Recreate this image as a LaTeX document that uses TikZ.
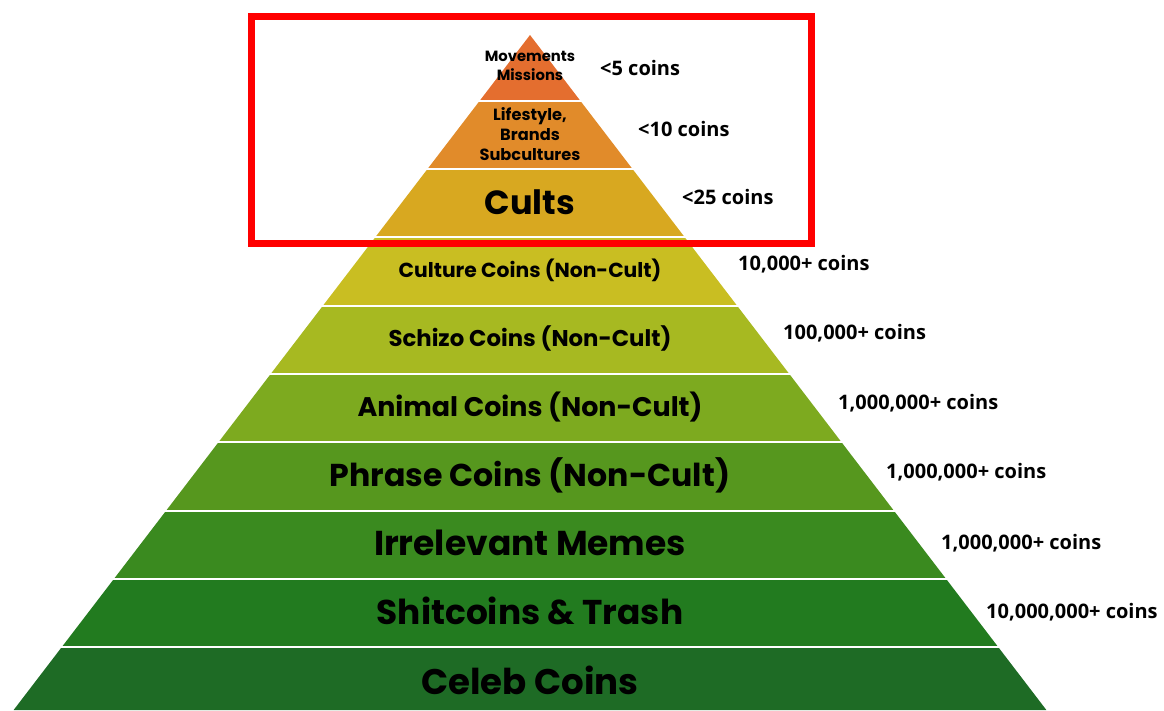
\documentclass[tikz,border=0pt]{standalone}
\usepackage{fontspec}
\newfontfamily\layerfont{Poppins}
\newfontfamily\countfont{Open Sans}
\usetikzlibrary{positioning}

\definecolor{tierA}{HTML}{E46E2F}
\definecolor{tierB}{HTML}{E18B2A}
\definecolor{tierC}{HTML}{D8A820}
\definecolor{tierD}{HTML}{C9BE22}
\definecolor{tierE}{HTML}{A7B921}
\definecolor{tierF}{HTML}{7DAA1F}
\definecolor{tierG}{HTML}{56971E}
\definecolor{tierH}{HTML}{3A8A1F}
\definecolor{tierI}{HTML}{227B1F}
\definecolor{tierJ}{HTML}{1E6B25}

\newcommand{\fs}[2]{\fontsize{#1}{#2}\selectfont}

\begin{document}
\begin{tikzpicture}[x=1pt,y=-1pt,
    layer/.style={align=center,inner sep=0pt,font=\layerfont\bfseries},
    count/.style={anchor=west,inner sep=0pt,font=\countfont\bfseries\fs{20}{24}}
]
    \useasboundingbox (0,0) rectangle (1164,710);
    \def\slope{0.765}

    % Pyramid tiers
    \foreach \yt/\yb/\col in {35/101/tierA,101/169/tierB,169/237/tierC,237/306/tierD,306/374/tierE,
                              374/442/tierF,442/511/tierG,511/579/tierH,579/647/tierI,647/710/tierJ}{
        \fill[\col] ({530-\slope*(\yt-35)},\yt) -- ({530+\slope*(\yt-35)},\yt)
            -- ({530+\slope*(\yb-35)},\yb) -- ({530-\slope*(\yb-35)},\yb) -- cycle;
    }
    % White gaps between tiers
    \foreach \y in {101,169,237,306,374,442,511,579,647}{
        \draw[white,line width=2.5] ({528-\slope*(\y-35)},\y) -- ({532+\slope*(\y-35)},\y);
    }

    % Tier labels
    \node[layer,font=\layerfont\bfseries\fs{14.8}{19}] (movements) at (530,66) {Movements\\Missions};
    \node[layer,font=\layerfont\bfseries\fs{16.2}{20}] (lifestyle) at (530,134) {Lifestyle,\\Brands\\Subcultures};
    \node[layer,font=\layerfont\bfseries\fs{33.5}{38}] (cults) at (530,202) {Cults};
    \node[layer,font=\layerfont\bfseries\fs{20.3}{24}] (culture) at (530,270) {Culture Coins (Non-Cult)};
    \node[layer,font=\layerfont\bfseries\fs{22.8}{26}] (schizo) at (530,338) {Schizo Coins (Non-Cult)};
    \node[layer,font=\layerfont\bfseries\fs{26.9}{30}] (animal) at (530,407) {Animal Coins (Non-Cult)};
    \node[layer,font=\layerfont\bfseries\fs{31.6}{36}] (phrase) at (530,475) {Phrase Coins (Non-Cult)};
    \node[layer,font=\layerfont\bfseries\fs{34.5}{38}] (irrelevant) at (530,543) {Irrelevant Memes};
    \node[layer,font=\layerfont\bfseries\fs{34.4}{38}] (shitcoins) at (530,611) {Shitcoins \& Trash};
    \node[layer,font=\layerfont\bfseries\fs{35.6}{40}] (celeb) at (530,680) {Celeb Coins};

    % Coin counts
    \node[count] (countA) at (600,68) {<5 coins};
    \node[count] (countB) at (638,129) {<10 coins};
    \node[count] (countC) at (682,197) {<25 coins};
    \node[count] (countD) at (738,264) {10,000+ coins};
    \node[count] (countE) at (783,333) {100,000+ coins};
    \node[count] (countF) at (838,403) {1,000,000+ coins};
    \node[count] (countG) at (886,472) {1,000,000+ coins};
    \node[count] (countH) at (941,543) {1,000,000+ coins};
    \node[count] (countI) at (986,612) {10,000,000+ coins};

    % Highlight frame
    \draw[red,line width=7] (251,16) rectangle (811,243);
\end{tikzpicture}
\end{document}
